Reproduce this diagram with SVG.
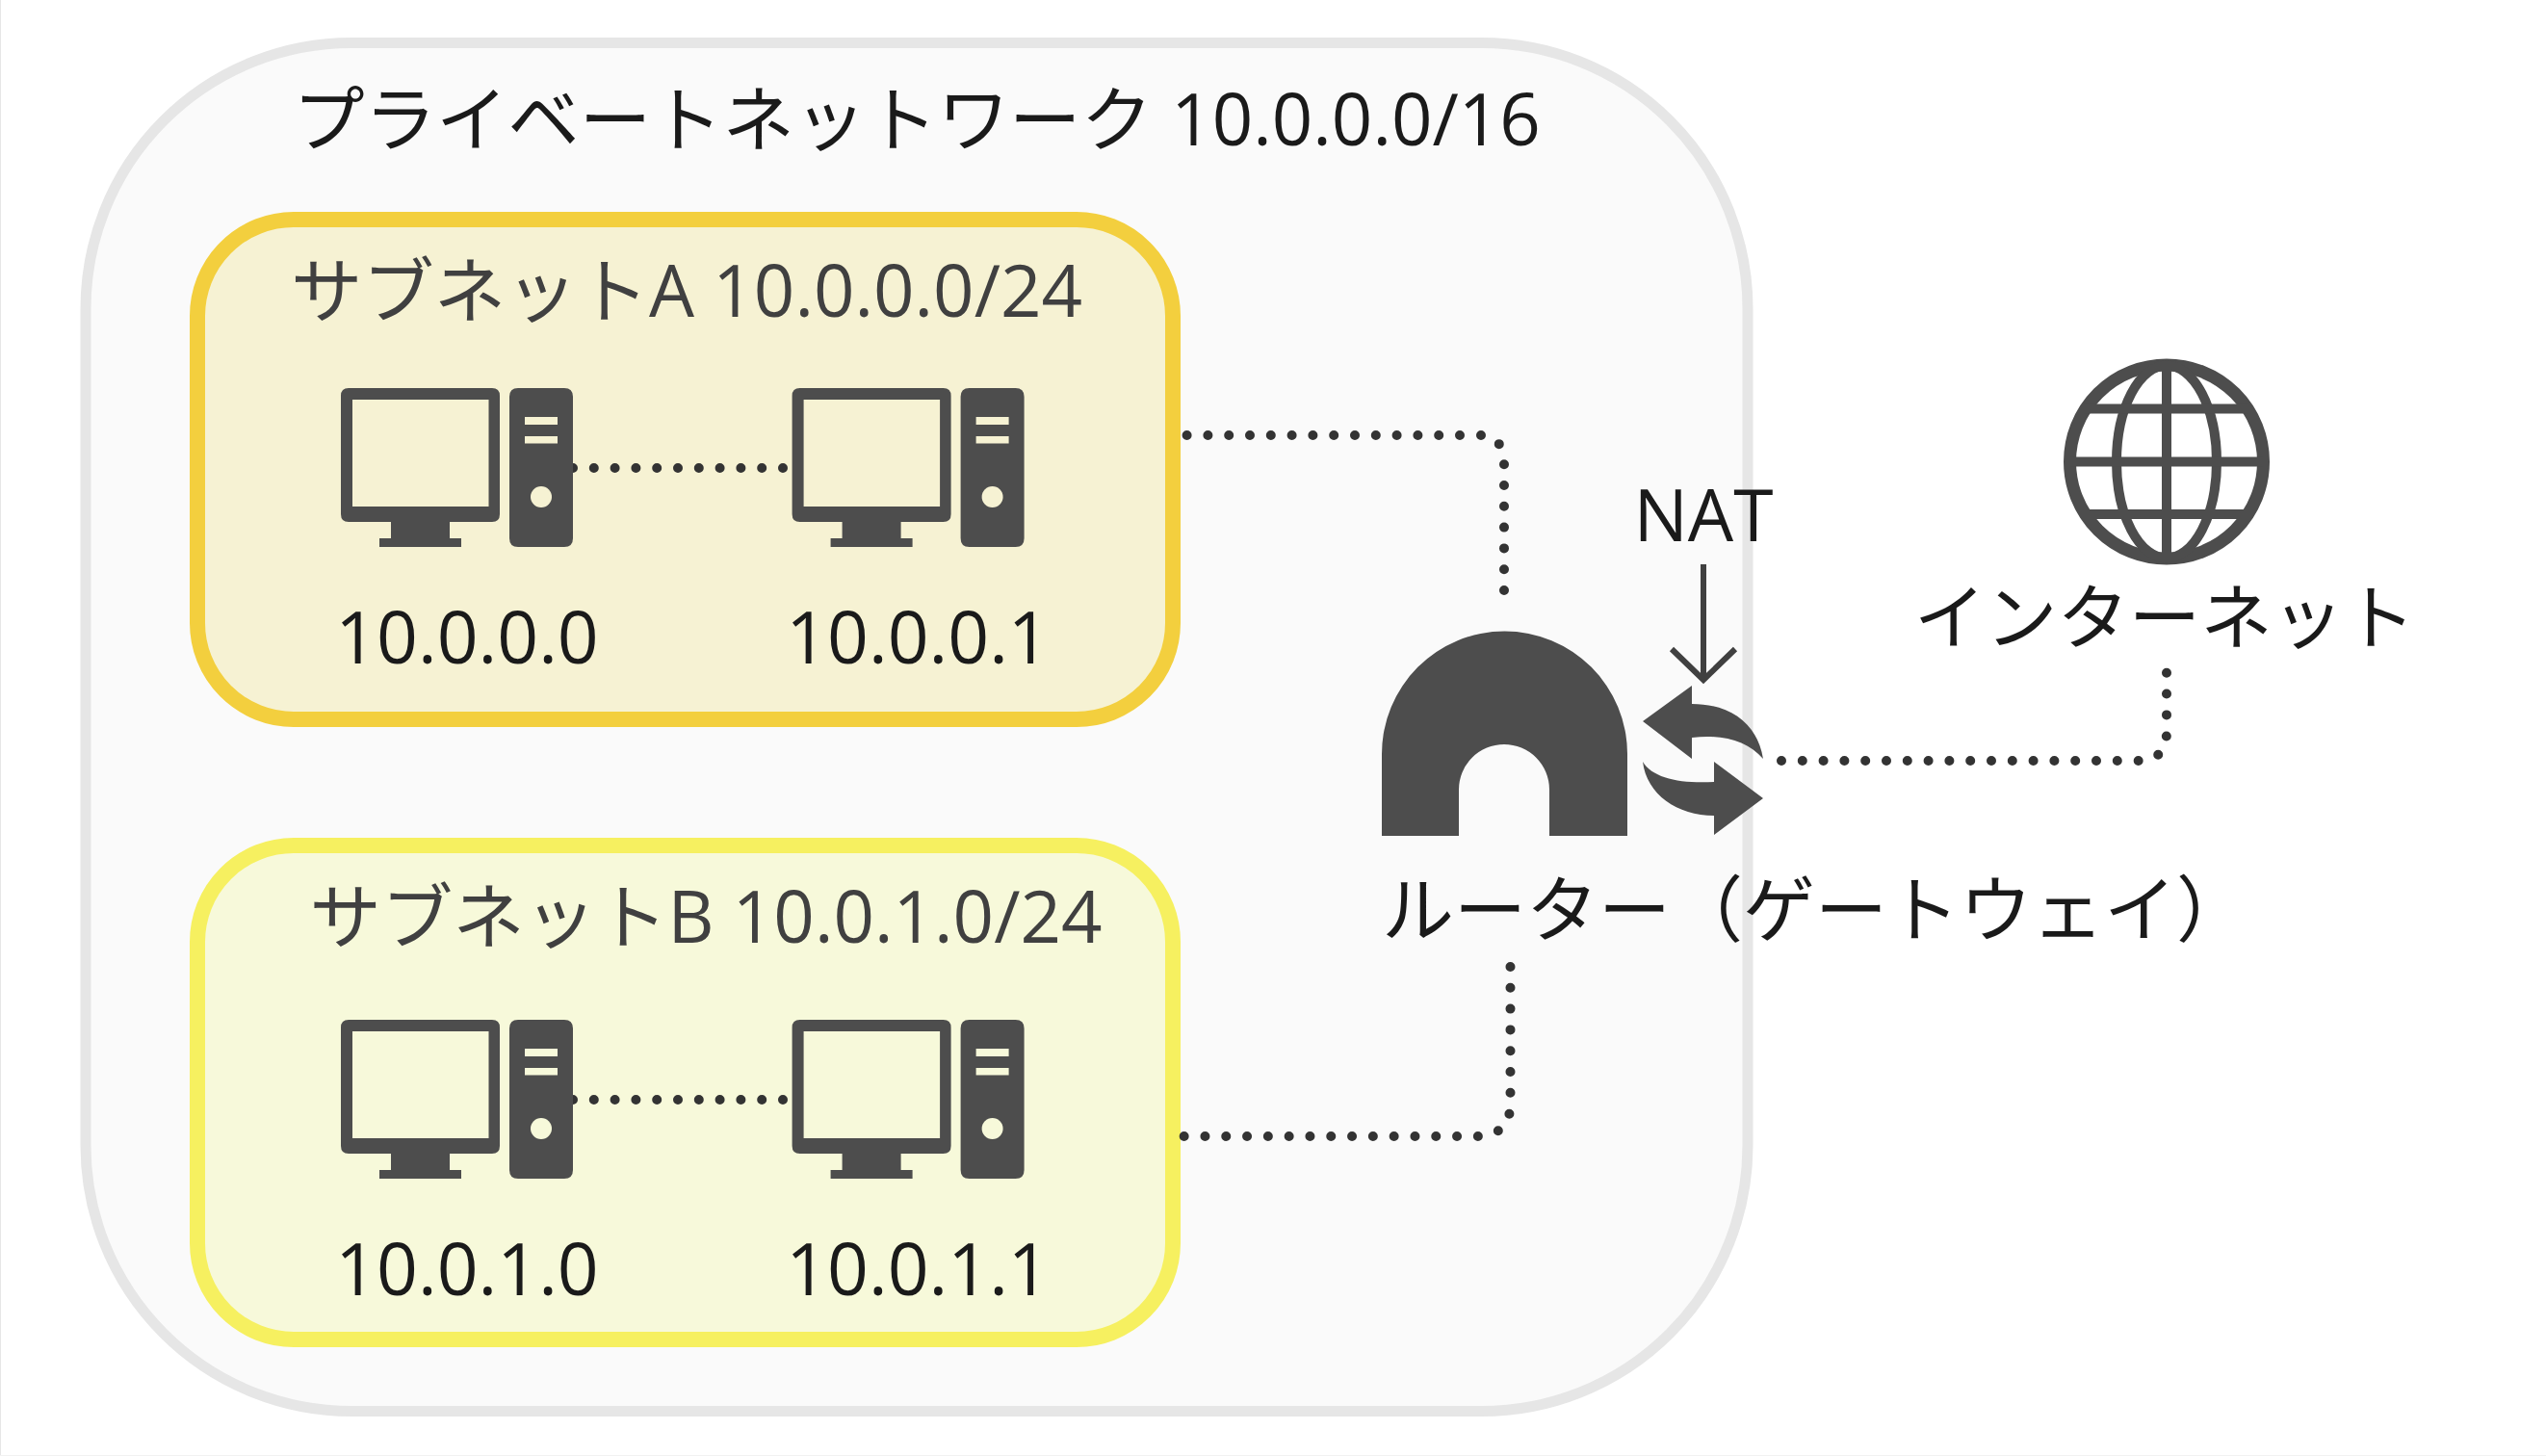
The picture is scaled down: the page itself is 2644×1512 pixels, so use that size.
<svg xmlns="http://www.w3.org/2000/svg" width="2644" height="1512" viewBox="0 0 2644 1512">
<style>
text{font-family:"Open Sans","Noto Sans CJK JP",sans-serif;font-size:75px;fill:#1a1a1a;text-anchor:middle}
.t{font-size:74.400px}
.sub{fill:#404040;font-size:74.400px}
.ic{fill:#4d4d4d}
.dot{fill:none;stroke:#333;stroke-width:10;stroke-linecap:round;stroke-dasharray:0 21.800}
</style>
<defs>
<g id="pc">
<path class="ic" fill-rule="evenodd" d="M362 403H511Q519 403 519 411V534Q519 542 511 542H467V559H479V568H394V559H406V542H362Q354 542 354 534V411Q354 403 362 403ZM366 415V526H507.500V415Z"/>
<path class="ic" d="M538 403H586Q595 403 595 412V559Q595 568 586 568H538Q529 568 529 559V412Q529 403 538 403Z"/>
<rect x="545" y="433" width="34" height="8" fill="var(--bg)"/>
<rect x="545" y="453" width="34" height="7.500" fill="var(--bg)"/>
<ellipse cx="562" cy="516" rx="11" ry="11" fill="var(--bg)"/>
</g>
</defs>
<rect width="2644" height="1512" fill="#fff"/>
<rect x="0" y="0" width="1" height="1512" fill="#e6e6e6"/>
<rect x="0" y="1511" width="2644" height="1" fill="#f2f2f2"/>
<g id="private-network">
<rect x="89" y="44.500" width="1726" height="1421" rx="276" fill="#fafafa" stroke="#e6e6e6" stroke-width="11"/>
<text class="t" x="952" y="151">プライベートネットワーク 10.0.0.0/16</text>
</g>
<g id="subnet-a" style="--bg:#f6f2d3">
<rect x="205" y="228" width="1013" height="519" rx="100" fill="#f6f2d3" stroke="#f3cf3e" stroke-width="16"/>
<text class="sub" x="713" y="329">サブネットA 10.0.0.0/24</text>
</g>
<g id="subnet-b" style="--bg:#f7f9da">
<rect x="205" y="878" width="1013" height="513" rx="100" fill="#f7f9da" stroke="#f6f060" stroke-width="16"/>
<text class="sub" x="733" y="979">サブネットB 10.0.1.0/24</text>
</g>
<g id="connectors">
<path class="dot" d="M595 486H816"/>
<path class="dot" d="M595 1142H816"/>
<path class="dot" d="M1562 613V482Q1562 452 1536 452H1220"/>
<path class="dot" d="M1568.500 1004V1150Q1566 1178 1537 1180H1220"/>
<path class="dot" d="M1850 790H2220Q2250 790 2250 760V692"/>
<path d="M1769 586V706M1736 674L1769 706L1802 674" fill="none" stroke="#404040" stroke-width="6"/>
</g>
<g id="pc-a0" style="--bg:#f6f2d3"><use href="#pc"/><text x="485" y="689">10.0.0.0</text></g>
<g id="pc-a1" style="--bg:#f6f2d3"><use href="#pc" x="468.600"/><text x="953" y="689">10.0.0.1</text></g>
<g id="pc-b0" style="--bg:#f7f9da"><use href="#pc" y="656"/><text x="485" y="1345">10.0.1.0</text></g>
<g id="pc-b1" style="--bg:#f7f9da"><use href="#pc" x="468.600" y="656"/><text x="953" y="1345">10.0.1.1</text></g>
<g id="router">
<path class="ic" d="M1435 868V783A127.500 127.500 0 0 1 1690 783V868H1609V820A47 47 0 0 0 1515 820V868Z"/>
<path class="ic" d="M1706 749L1757 712V731C1795 731 1825 750 1831 788C1815 770 1790 762 1757 766V788Z"/>
<path class="ic" d="M1831 829L1780 791V812C1745 814 1716 808 1706 791C1710 825 1742 847 1780 847V867Z"/>
<text x="1885" y="972">ルーター（ゲートウェイ）</text>
<text x="1769" y="562">NAT</text>
</g>
<g id="internet">
<circle cx="2250" cy="479.500" r="100.500" fill="none" stroke="#4d4d4d" stroke-width="13"/>
<ellipse cx="2250" cy="479.500" rx="52" ry="100" fill="none" stroke="#4d4d4d" stroke-width="10"/>
<path d="M2250 379V580M2150 479.500H2350M2165 424.500H2335M2165 534H2335" fill="none" stroke="#4d4d4d" stroke-width="10"/>
<text class="t" x="2248" y="668">インターネット</text>
</g>
</svg>
